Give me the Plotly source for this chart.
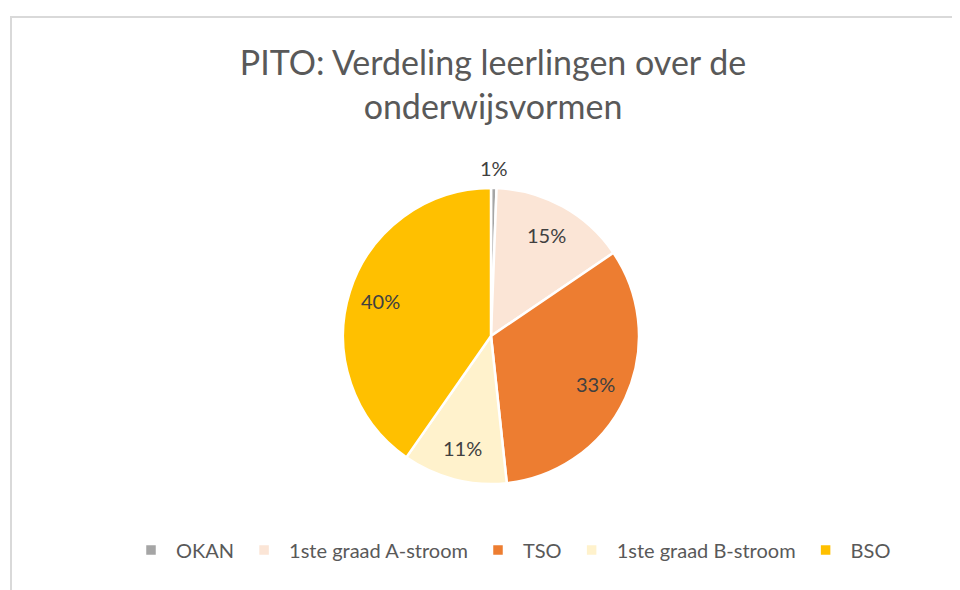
import math
import plotly.graph_objects as go

labels = ["OKAN", "1ste graad A-stroom", "TSO", "1ste graad B-stroom", "BSO"]
values = [0.6, 14.9, 32.8, 11.4, 40.3]
colors = ["#A5A5A5", "#FBE5D6", "#ED7D31", "#FFF2CC", "#FFC000"]
label_outside = [True, False, False, False, False]
title_text = "PITO: Verdeling leerlingen over de<br>onderwijsvormen"

# page body has an 8px margin; figure fits inside the 960x590 window
OFF = 8
W, H = 960 - OFF, 590 - OFF
cx, cy, r = 491 - OFF, 336 - OFF, 148


def px(x):
    return x / W


def py(y):
    return 1 - y / H


fig = go.Figure(go.Pie(
    labels=labels,
    values=values,
    sort=False,
    direction="clockwise",
    rotation=0,
    marker=dict(colors=colors, line=dict(color="white", width=2.5)),
    textinfo="none",
    domain=dict(x=[px(cx - r), px(cx + r)], y=[py(cy + r), py(cy - r)]),
    hoverinfo="label+percent",
))

# data labels placed along each slice's mid-angle
total = sum(values)
annotations = []
cum = 0.0
for v, outside in zip(values, label_outside):
    mid = (cum + v / 2) / total * 2 * math.pi
    cum += v
    rl = r + 20 if outside else r * 0.78
    annotations.append(dict(
        x=px(cx + rl * math.sin(mid)), y=py(cy - rl * math.cos(mid)),
        xref="paper", yref="paper", xanchor="center", yanchor="middle",
        text=f"{round(v / total * 100)}%", showarrow=False,
        font=dict(family="Lato", size=20, color="#404040"),
    ))

fig.update_layout(
    width=W, height=H,
    margin=dict(l=0, r=0, t=0, b=0),
    paper_bgcolor="white",
    plot_bgcolor="white",
    title=dict(text=title_text, x=px(493 - OFF), xanchor="center", y=py(83 - OFF - 8.5), yanchor="middle",
               font=dict(family="Lato", size=34, color="#595959")),
    legend=dict(orientation="h", x=px(511 - OFF), xanchor="center", y=py(550 - OFF), yanchor="middle",
                itemwidth=40,
                font=dict(family="Lato", size=20, color="#595959")),
    annotations=annotations,
    shapes=[dict(type="rect", xref="paper", yref="paper",
                 x0=px(11 - OFF), x1=1.05, y0=-0.05, y1=py(17 - OFF),
                 line=dict(color="#D9D9D9", width=2), fillcolor="rgba(0,0,0,0)")],
)

fig.write_html("out.html")
